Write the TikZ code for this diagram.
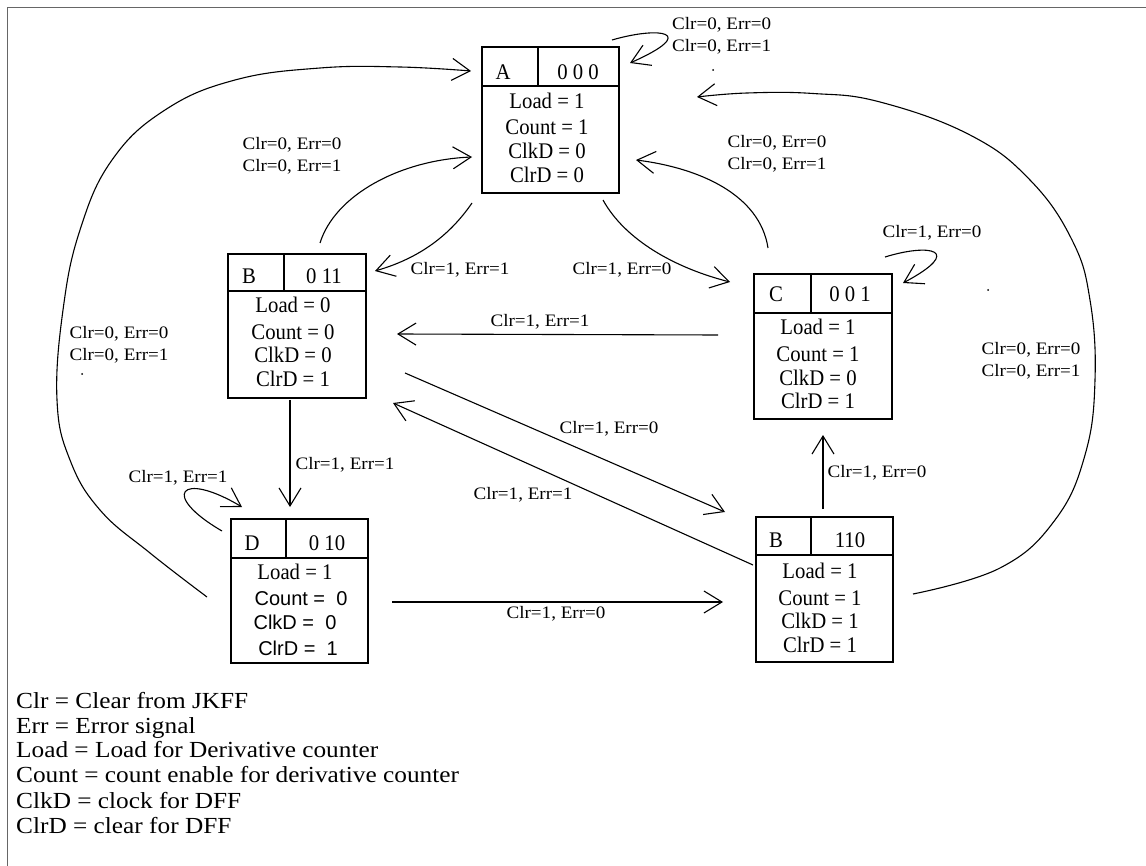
\documentclass[tikz,border=0pt]{standalone}
\usepackage{fontspec}
\setmainfont{Liberation Serif}
\newfontfamily\arialf{Liberation Sans}
\newfontfamily\widef[FakeStretch=1.09]{Liberation Serif}
\newfontfamily\legf[FakeStretch=1.1]{Liberation Serif}
\newfontfamily\boxf[FakeStretch=0.93]{Liberation Serif}
\usetikzlibrary{arrows.meta}
\begin{document}
\begin{tikzpicture}[x=1pt,y=-1pt,
  conn/.style={line width=1.1pt,-{Straight Barb[length=18pt,width=22pt,line width=1.1pt]}},
  plain/.style={line width=1.1pt},
  boxr/.style={draw,line width=1.1pt,inner sep=0pt},
  lbl/.style={font=\widef\fontsize{17.5}{21.5}\selectfont, align=left, inner sep=0pt},
  btxt/.style={font=\boxf\fontsize{22.3}{24}\selectfont, anchor=base, inner sep=0pt},
  atxt/.style={font=\arialf\fontsize{20}{24}\selectfont, anchor=base, inner sep=0pt},
  leg/.style={font=\legf\fontsize{23}{25}\selectfont, anchor=base west, inner sep=0pt},
  frameline/.style={draw=black!60, line width=1.6pt},
  dotmark/.style={fill=black}
]
\useasboundingbox (0,0) rectangle (1146,866);
\draw[frameline] (7.5,866) -- (7.5,7.5) -- (1146,7.5);

% ---------- state A ----------
\node[boxr, minimum width=137pt, minimum height=146pt] (A) at (550.5,120) {};
\draw[plain] (482,86) -- (619,86);
\draw[plain] (538,47) -- (538,86);
\node[btxt] (Aname) at (503,80) {A};
\node[btxt] (Acode) at (578,80) {0 0 0};
\node[btxt] (A1) at (547,109) {Load = 1};
\node[btxt] (A2) at (547,135) {Count = 1};
\node[btxt] (A3) at (547,159) {ClkD = 0};
\node[btxt] (A4) at (547,183) {ClrD = 0};

% ---------- state B (0 11) ----------
\node[boxr, minimum width=138pt, minimum height=144pt] (B) at (297,326) {};
\draw[plain] (228,291) -- (366,291);
\draw[plain] (284,254) -- (284,291);
\node[btxt] (Bname) at (249,284) {B};
\node[btxt] (Bcode) at (324,284) {0 11};
\node[btxt] (B1) at (293,313) {Load = 0};
\node[btxt] (B2) at (293,340) {Count = 0};
\node[btxt] (B3) at (293,363) {ClkD = 0};
\node[btxt] (B4) at (293,387) {ClrD = 1};

% ---------- state C ----------
\node[boxr, minimum width=138pt, minimum height=145pt] (C) at (823,346.5) {};
\draw[plain] (754,313) -- (892,313);
\draw[plain] (811,274) -- (811,313);
\node[btxt] (Cname) at (776,302) {C};
\node[btxt] (Ccode) at (850,302) {0 0 1};
\node[btxt] (C1) at (818,335) {Load = 1};
\node[btxt] (C2) at (818,362) {Count = 1};
\node[btxt] (C3) at (818,386) {ClkD = 0};
\node[btxt] (C4) at (818,409) {ClrD = 1};

% ---------- state D ----------
\node[boxr, minimum width=137pt, minimum height=144pt] (D) at (299.5,591) {};
\draw[plain] (231,558) -- (368,558);
\draw[plain] (286,519) -- (286,558);
\node[btxt] (Dname) at (252,550) {D};
\node[btxt] (Dcode) at (327,550) {0 10};
\node[btxt] (D1) at (295,579) {Load = 1};
\node[atxt] (D2) at (301,605) {Count =\ \ 0};
\node[atxt] (D3) at (295,629) {ClkD =\ \ 0};
\node[atxt] (D4) at (298,655) {ClrD =\ \ 1};

% ---------- state B (110) ----------
\node[boxr, minimum width=137pt, minimum height=145pt] (E) at (824.5,589.5) {};
\draw[plain] (756,555) -- (893,555);
\draw[plain] (811,517) -- (811,555);
\node[btxt] (Ename) at (776,547) {B};
\node[btxt] (Ecode) at (850,547) {110};
\node[btxt] (E1) at (820,578) {Load = 1};
\node[btxt] (E2) at (820,605) {Count = 1};
\node[btxt] (E3) at (820,628) {ClkD = 1};
\node[btxt] (E4) at (820,652.5) {ClrD = 1};

% ---------- connector end points ----------
\coordinate (aLoopS) at (612,40);
\coordinate (aLoopE) at (630,63);
\coordinate (rArcS) at (913,594);
\coordinate (rArcE) at (697,97);
\coordinate (lArcS) at (207,597);
\coordinate (lArcE) at (471,71);
\coordinate (baS) at (320,243);
\coordinate (baE) at (472,157);
\coordinate (abS) at (472,203);
\coordinate (abE) at (375,271);
\coordinate (acS) at (603,200);
\coordinate (acE) at (730,282);
\coordinate (caS) at (768,248);
\coordinate (caE) at (636,160);
\coordinate (cLoopS) at (885,257);
\coordinate (cLoopE) at (903,283);
\coordinate (cbS) at (718,335);
\coordinate (cbE) at (397,334);
\coordinate (beS) at (405,373);
\coordinate (beE) at (725,512);
\coordinate (ebS) at (753,565);
\coordinate (ebE) at (393,403);
\coordinate (bdS) at (290,400);
\coordinate (bdE) at (290,507);
\coordinate (dLoopS) at (222,531);
\coordinate (dLoopE) at (242,507);
\coordinate (ecS) at (823,509);
\coordinate (ecE) at (823,435);
\coordinate (deS) at (392,602);
\coordinate (deE) at (723,602);

% ---------- connectors ----------
\draw[conn] (aLoopS) .. controls (660,26) and (700,32) .. (aLoopE);
\draw[conn] plot[smooth, tension=0.7] coordinates {(rArcS) (1000,568) (1055,520) (1085,455) (1095,380) (1090,300) (1072,240) (1030,180) (970,135) (880,102) (813,93.5) (747,93) (rArcE)};
\draw[conn] plot[smooth, tension=0.7] coordinates {(lArcS) (150,553) (100,510) (70,460) (57,400) (63,310) (80,230) (112,160) (165,110) (235,80) (320,68) (400,67) (lArcE)};
\draw[conn] (baS) .. controls (335,195) and (400,160) .. (baE);
\draw[conn] (abS) .. controls (450,235) and (420,258) .. (abE);
\draw[conn] (acS) .. controls (625,240) and (675,268) .. (acE);
\draw[conn] (caS) .. controls (760,195) and (700,168) .. (caE);
\draw[conn] (cLoopS) .. controls (930,243) and (965,250) .. (cLoopE);
\draw[conn] (cbS) -- (cbE);
\draw[conn] (beS) -- (beE);
\draw[conn] (ebS) -- (ebE);
\draw[conn] (bdS) -- (bdE);
\draw[conn] (dLoopS) .. controls (160,495) and (180,470) .. (dLoopE);
\draw[conn] (ecS) -- (ecE);
\draw[conn] (deS) -- (deE);

% ---------- labels ----------
\node[lbl, anchor=west] (tAloop) at (672,36) {Clr=0, Err=0\\Clr=0, Err=1};
\node[lbl] (tBA) at (292,156) {Clr=0, Err=0\\Clr=0, Err=1};
\node[lbl] (tCA) at (777,154) {Clr=0, Err=0\\Clr=0, Err=1};
\node[lbl] (tAB) at (460,270) {Clr=1, Err=1};
\node[lbl] (tAC) at (622,270) {Clr=1, Err=0};
\node[lbl] (tCloop) at (932,233) {Clr=1, Err=0};
\node[lbl] (tCB) at (540,322) {Clr=1, Err=1};
\node[lbl] (tLeft) at (119,345) {Clr=0, Err=0\\Clr=0, Err=1};
\node[lbl] (tRight) at (1031,361) {Clr=0, Err=0\\Clr=0, Err=1};
\node[lbl] (tBE) at (609,429) {Clr=1, Err=0};
\node[lbl] (tEB) at (523,495) {Clr=1, Err=1};
\node[lbl] (tBD) at (345,465) {Clr=1, Err=1};
\node[lbl] (tDloop) at (178,478) {Clr=1, Err=1};
\node[lbl] (tEC) at (877,473) {Clr=1, Err=0};
\node[lbl] (tDE) at (556,614) {Clr=1, Err=0};

% stray dots
\fill[dotmark] (713,70) circle (1pt);
\fill[dotmark] (82,374) circle (1pt);
\fill[dotmark] (988,290) circle (1pt);

% ---------- legend ----------
\node[leg] (g1) at (16,708) {Clr = Clear from JKFF};
\node[leg] (g2) at (16,733) {Err = Error signal};
\node[leg] (g3) at (16,757.5) {Load = Load for Derivative counter};
\node[leg] (g4) at (16,782.5) {Count = count enable for derivative counter};
\node[leg] (g5) at (16,808) {ClkD = clock for DFF};
\node[leg] (g6) at (16,833) {ClrD = clear for DFF};
\end{tikzpicture}
\end{document}
